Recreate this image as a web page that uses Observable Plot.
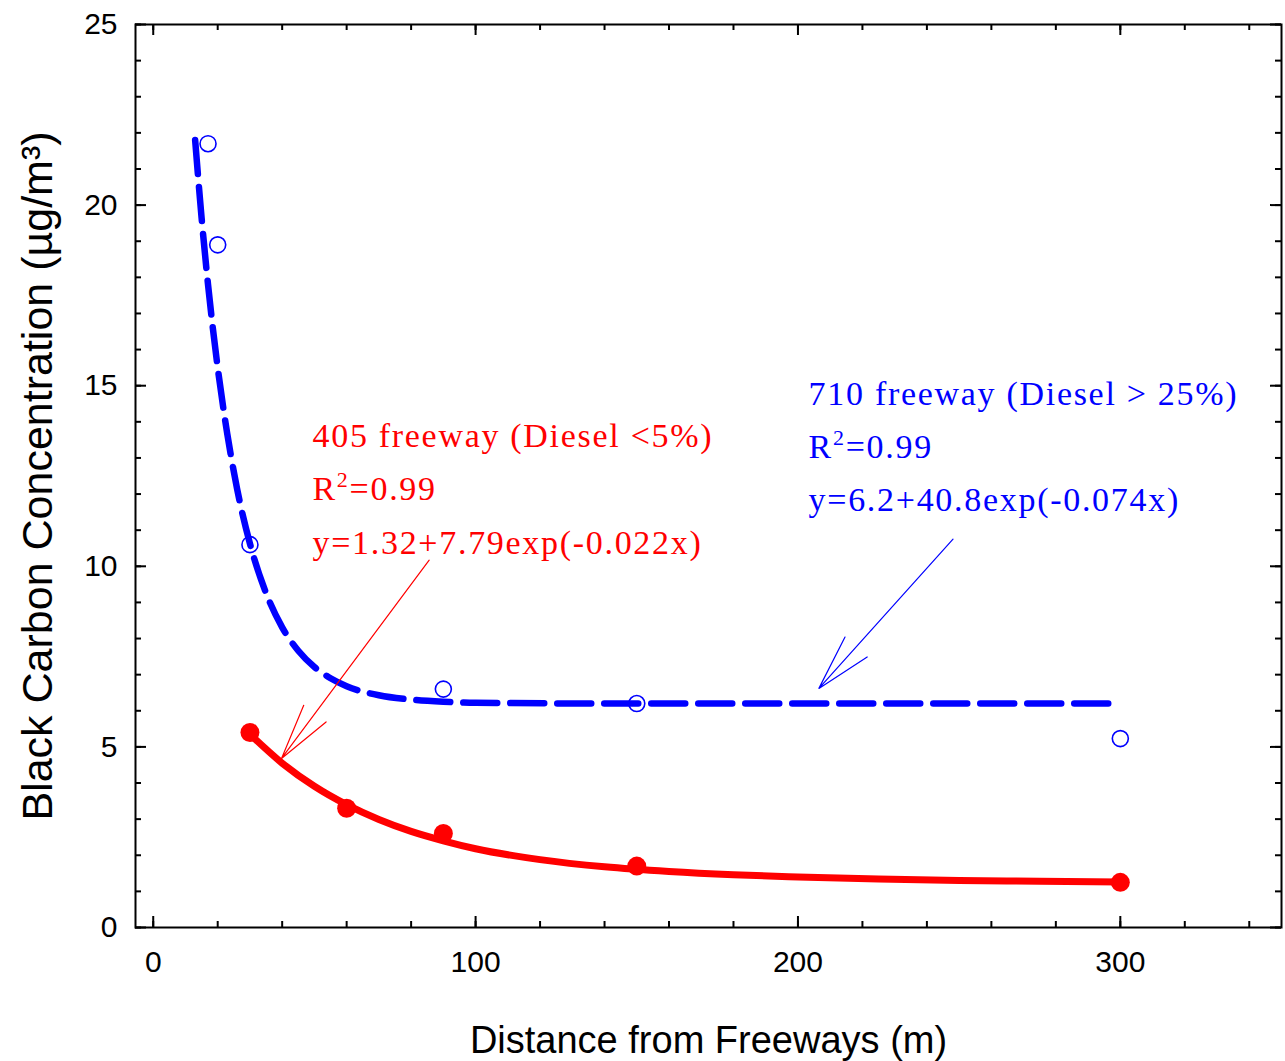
<!DOCTYPE html>
<html><head><meta charset="utf-8">
<script src="https://cdn.jsdelivr.net/npm/d3@7"></script>
<script src="https://cdn.jsdelivr.net/npm/@observablehq/plot@0.6"></script>
<style>
html,body{margin:0;padding:0;background:#fff;}
</style></head><body><div id="chart"></div>
<script>
// Measured points
const blueX = [17, 20, 30, 90, 150, 300];
const blueY = [21.7, 18.9, 10.6, 6.6, 6.2, 5.23];
const redX = [30, 60, 90, 150, 300];
const redY = [5.4, 3.3, 2.6, 1.7, 1.25];
// Fitted curves
const fitBlueX = [13, 15, 17, 20, 23, 26, 30, 35, 40, 45, 50, 55, 60, 70, 80, 90, 100, 150, 200, 250, 300];
const fitBlueY = [21.8, 19.65, 17.8, 15.5, 13.65, 12.15, 10.63, 9.26, 8.31, 7.66, 7.21, 6.9, 6.68, 6.43, 6.31, 6.25, 6.22, 6.2, 6.2, 6.2, 6.2];
const fitRedX = [30, 40, 50, 60, 70, 80, 90, 100, 120, 140, 160, 180, 200, 225, 250, 275, 300];
const fitRedY = [5.35, 4.55, 3.91, 3.4, 2.99, 2.66, 2.4, 2.18, 1.88, 1.68, 1.55, 1.46, 1.4, 1.34, 1.3, 1.28, 1.26];
// Ticks
const xMajor = [0, 100, 200, 300];
const xMinor = [0, 20, 40, 60, 80, 100, 120, 140, 160, 180, 200, 220, 240, 260, 280, 300, 320, 340];
const yMajor = [0, 5, 10, 15, 20, 25];
const yMinor = [0,1,2,3,4,5,6,7,8,9,10,11,12,13,14,15,16,17,18,19,20,21,22,23,24,25];
// Texts
const xTitle = "Distance from Freeways (m)";
const yTitle = "Black Carbon Concentration (µg/m³)";
const redLabel = ["405 freeway (Diesel <5%)", "R²=0.99", "y=1.32+7.79exp(-0.022x)"];
const blueLabel = ["710 freeway (Diesel > 25%)", "R²=0.99", "y=6.2+40.8exp(-0.074x)"];
// Annotation anchors (data coordinates)
const redLabelPos = [49.4, 12.3];
const blueLabelPos = [203.3, 13.46];
const redArrow = [{x1: 85.6, y1: 10.17, x2: 39.8, y2: 4.68}];
const blueArrow = [{x1: 248.1, y1: 10.75, x2: 206.5, y2: 6.62}];

const W = 1285, H = 1061, mL = 135, mR = 4, mT = 24, mB = 134;
const iW = W - mL - mR, iH = H - mT - mB;
const sans = "'Liberation Sans', Arial, sans-serif";
const serif = "'Liberation Serif', 'Times New Roman', serif";
const tick = {stroke: "black", strokeWidth: 2};

const chart = Plot.plot({
  width: W, height: H,
  marginLeft: mL, marginRight: mR, marginTop: mT, marginBottom: mB,
  style: {fontFamily: sans, background: "#fff", color: "black"},
  x: {domain: [-5.5, 350]},
  y: {domain: [0, 25]},
  marks: [
    Plot.ruleX(xMinor, {...tick, insetTop: iH - 6}),
    Plot.ruleX(xMajor, {...tick, insetTop: iH - 11}),
    Plot.ruleX(xMinor, {...tick, insetBottom: iH - 6}),
    Plot.ruleX(xMajor, {...tick, insetBottom: iH - 11}),
    Plot.ruleY(yMinor, {...tick, insetRight: iW - 6}),
    Plot.ruleY(yMajor, {...tick, insetRight: iW - 11}),
    Plot.ruleY(yMinor, {...tick, insetLeft: iW - 6}),
    Plot.ruleY(yMajor, {...tick, insetLeft: iW - 11}),
    Plot.frame({stroke: "black", strokeWidth: 2}),
    Plot.axisX(xMajor, {anchor: "bottom", tickSize: 0, tickPadding: 23, fontSize: 30, label: null, fill: "black"}),
    Plot.axisY(yMajor, {anchor: "left", tickSize: 0, tickPadding: 18, fontSize: 30, label: null, fill: "black"}),
    Plot.text([xTitle], {text: d => d, frameAnchor: "bottom", textAnchor: "middle", lineAnchor: "middle", dy: 113, fontSize: 38, fill: "black"}),
    Plot.text([yTitle], {text: d => d, frameAnchor: "left", textAnchor: "middle", lineAnchor: "middle", dx: -97, rotate: -90, fontSize: 43, fill: "black"}),
    Plot.line(fitBlueX, {x: d => d, y: (d, i) => fitBlueY[i], curve: "monotone-x", stroke: "#0000ff", strokeWidth: 6.5, strokeDasharray: "34,13"}),
    Plot.line(fitRedX, {x: d => d, y: (d, i) => fitRedY[i], curve: "monotone-x", stroke: "#ff0000", strokeWidth: 7}),
    Plot.dot(blueX, {x: d => d, y: (d, i) => blueY[i], r: 8, stroke: "#0000ff", strokeWidth: 1.6, fill: "none"}),
    Plot.dot(redX, {x: d => d, y: (d, i) => redY[i], r: 9.5, fill: "#ff0000", stroke: "none"}),
    Plot.arrow(redArrow, {x1: "x1", y1: "y1", x2: "x2", y2: "y2", stroke: "#ff0000", strokeWidth: 1.2, headAngle: 28, headLength: 72}),
    Plot.arrow(blueArrow, {x1: "x1", y1: "y1", x2: "x2", y2: "y2", stroke: "#0000ff", strokeWidth: 1.2, headAngle: 30, headLength: 72}),
    Plot.text([redLabel.join("\n")], {text: d => d, x: () => redLabelPos[0], y: () => redLabelPos[1], textAnchor: "start", lineAnchor: "middle", lineHeight: 1.57, fontSize: 34, fontFamily: serif, fill: "#ff0000"}),
    Plot.text([blueLabel.join("\n")], {text: d => d, x: () => blueLabelPos[0], y: () => blueLabelPos[1], textAnchor: "start", lineAnchor: "middle", lineHeight: 1.55, fontSize: 34, fontFamily: serif, fill: "#0000ff"})
  ]
});
// Slightly wider letter spacing for the serif annotations, and a raised "2" in R²
d3.select(chart).selectAll("g")
  .filter(function () { return (this.getAttribute("font-family") || "").includes("Serif"); })
  .style("letter-spacing", "1.7px");
d3.select(chart).selectAll("tspan").each(function () {
  const t = this.textContent;
  if (t.startsWith("R²")) {
    const s = d3.select(this);
    s.text("R");
    s.append("tspan").attr("dy", -13).attr("font-size", 22).text("2");
    s.append("tspan").attr("dy", 13).text(t.slice(2));
  }
});
document.getElementById("chart").appendChild(chart);
</script></body></html>
